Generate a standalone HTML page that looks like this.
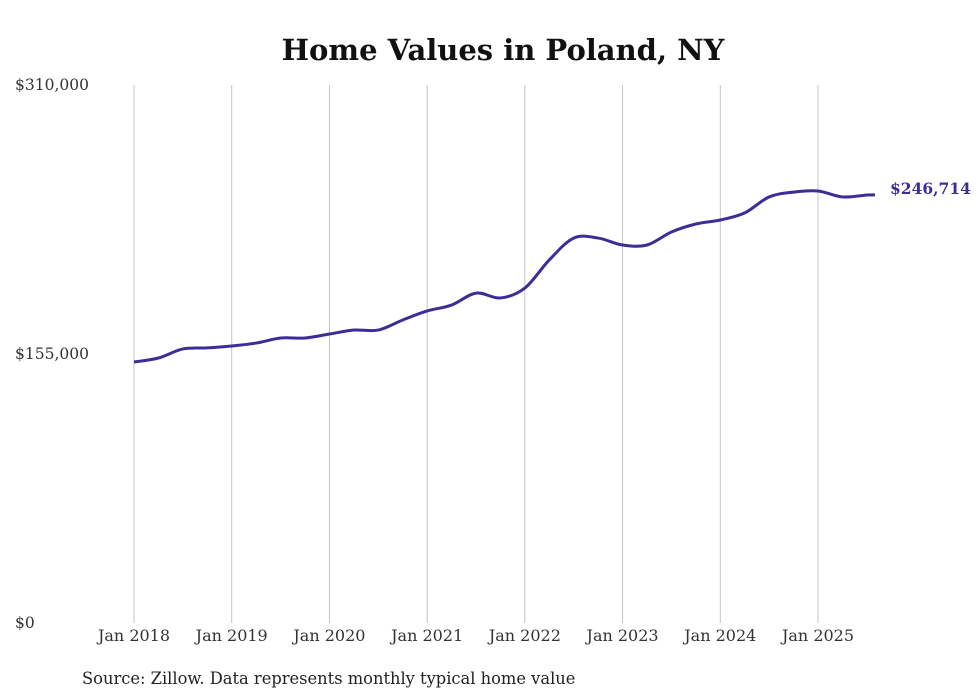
<!DOCTYPE html>
<html><head><meta charset="utf-8"><style>
body{margin:0;background:#fff;}
svg{display:block;font-family:"DejaVu Serif","Liberation Serif",serif;}
</style></head><body>
<svg id="chart" width="980" height="699" viewBox="0 0 980 699">
<text x="503" y="60" text-anchor="middle" font-size="29" font-weight="bold" fill="#111">Home Values in Poland, NY</text>
<g id="grid"></g>
<g id="yaxis"></g>
<g id="xaxis"></g>
<path id="line" fill="none" stroke="#3b2f97" stroke-width="3" stroke-linejoin="round"/>
<text id="endlabel" font-size="15.5" font-weight="bold" fill="#3b2f97"></text>
<text x="82" y="684" font-size="16.3" fill="#222">Source: Zillow. Data represents monthly typical home value</text>
</svg>
<script>
// month index from Jan 2018
const months = [0,3,6,9,12,15,18,21,24,27,30,33,36,39,42,45,48,51,54,57,60,63,66,69,72,75,78,81,84,87,90,91];
const values = [150400,152700,157900,158500,159600,161300,164200,164200,166500,168800,168800,174600,179800,183200,190100,187300,193000,209200,221800,221800,217800,217800,225300,229900,232200,236300,245500,248300,248900,245500,246600,246714];
const yTicks = [0,155000,310000];
const yTickLabels = ["$0","$155,000","$310,000"];
const xTickYears = [2018,2019,2020,2021,2022,2023,2024,2025];
const NS="http://www.w3.org/2000/svg";
const x = m => 134 + m*(684/84);
const y = v => 623 - v/310000*538;
function mk(tag, attrs, parent){const e=document.createElementNS(NS,tag);for(const k in attrs)e.setAttribute(k,attrs[k]);parent.appendChild(e);return e;}
const grid=document.getElementById('grid'),ya=document.getElementById('yaxis'),xa=document.getElementById('xaxis');
xTickYears.forEach(yr=>{
  const px=x((yr-2018)*12);
  const l=mk('line',{x1:px,x2:px,y1:85,y2:623,stroke:'#c4c4c4','stroke-width':1},grid);
  
  
  const t=mk('text',{x:px,y:641,'text-anchor':'middle','font-size':16,fill:'#333'},xa);
  t.textContent='Jan '+yr;
  
  
});
yTicks.forEach((v,i)=>{
  const t=mk('text',{x:15,y:y(v)+5,'font-size':15.5,fill:'#333'},ya);
  t.textContent=yTickLabels[i];
  
  
});
const pts=months.map((m,i)=>[x(m),y(values[i])]);
let d='M'+pts[0][0]+','+pts[0][1];
for(let i=0;i<pts.length-1;i++){
  const p0=pts[Math.max(0,i-1)],p1=pts[i],p2=pts[i+1],p3=pts[Math.min(pts.length-1,i+2)];
  const c1=[p1[0]+(p2[0]-p0[0])/6,p1[1]+(p2[1]-p0[1])/6];
  const c2=[p2[0]-(p3[0]-p1[0])/6,p2[1]-(p3[1]-p1[1])/6];
  d+=` C${c1[0]},${c1[1]} ${c2[0]},${c2[1]} ${p2[0]},${p2[1]}`;
}
document.getElementById('line').setAttribute('d',d);
const last=pts[pts.length-1];
const el=document.getElementById('endlabel');
el.setAttribute('x',last[0]+15);el.setAttribute('y',last[1]-1);
el.textContent='$'+values[values.length-1].toLocaleString('en-US');
</script>
</body></html>
